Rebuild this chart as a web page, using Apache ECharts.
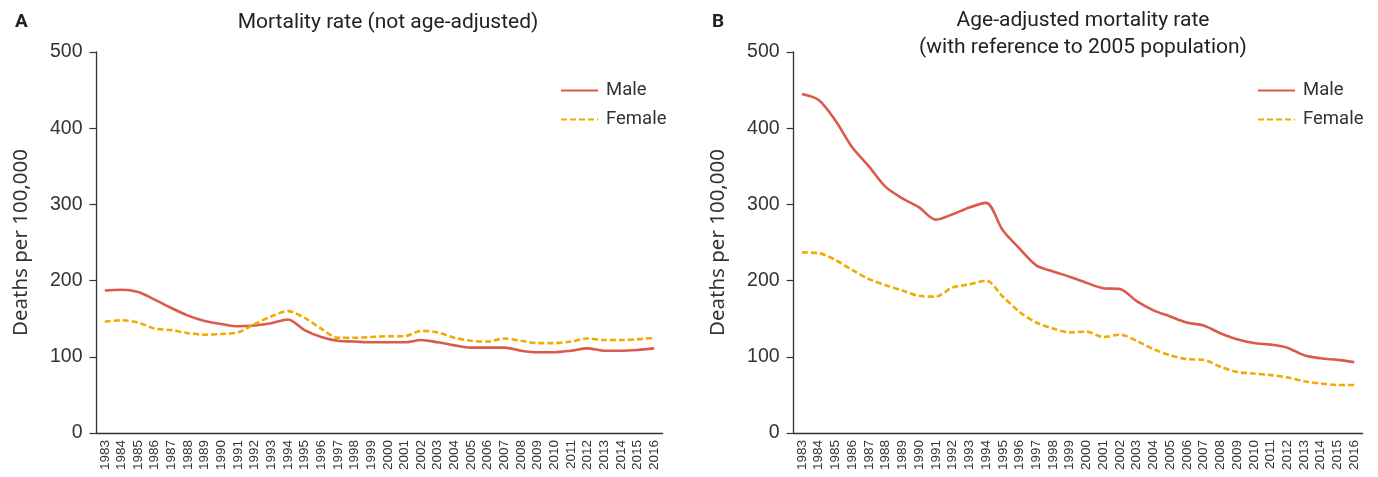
<!DOCTYPE html>
<html><head><meta charset="utf-8">
<script src="https://cdn.jsdelivr.net/npm/echarts@6/dist/echarts.min.js"></script>
<style>html,body{margin:0;padding:0;background:#fff}#c{width:1378px;height:477px}</style>
</head><body><div id="c"></div>
<script>
const years = ['1983','1984','1985','1986','1987','1988','1989','1990','1991','1992','1993','1994','1995','1996','1997','1998','1999','2000','2001','2002','2003','2004','2005','2006','2007','2008','2009','2010','2011','2012','2013','2014','2015','2016'];
const maleCrude = [187,188,185,175,164,154,147,143,140,141,144,149,135,126,121,120,119,119,119,122,119,115,112,112,112,108,106,106,108,111,108,108,109,111];
const femaleCrude = [146,148,145,137,135,131,129,130,132,143,153,160,151,137,125,125,126,127,127,134,132,125,121,120,124,121,118,118,120,124,122,122,123,125];
const maleAdj = [445,437,410,375,350,323,308,296,280,287,296,302,266,242,220,212,205,197,190,189,173,161,153,145,141,131,123,118,116,112,102,98,96,93];
const femaleAdj = [237,236,227,214,202,194,187,180,179,191,195,200,179,159,145,137,132,133,126,129,121,110,102,97,96,87,80,78,76,73,68,65,63,63];
const yTicks = [0,100,200,300,400,500];

const titleFont = 'Roboto,"Noto Sans",sans-serif';
const MALE = '#DA5A4C', FEMALE = '#F2A900';
const chart = echarts.init(document.getElementById('c'));

function xAxis(gi){
  return {type:'category', gridIndex:gi, data:years, boundaryGap:true,
    axisLine:{lineStyle:{color:'#333',width:1.3}},
    axisTick:{alignWithLabel:true,length:6,lineStyle:{color:'#333',width:1.2}},
    axisLabel:{rotate:90,interval:0,fontSize:13.5,color:'#333',fontFamily:'Arial,"Liberation Sans",sans-serif',margin:7}};
}
function yAxis(gi){
  return {type:'value', gridIndex:gi, min:0, max:500, interval:100,
    name:'Deaths per 100,000', nameLocation:'middle', nameGap:65,
    nameTextStyle:{fontSize:20.5,color:'#333',fontFamily:'"Noto Sans",sans-serif'},
    splitLine:{show:false},
    axisLine:{show:true,lineStyle:{color:'#333',width:1.3}},
    axisTick:{show:true,length:7,lineStyle:{color:'#333',width:1.2}},
    axisLabel:{fontSize:19.5,color:'#333',margin:14,fontFamily:'Arial,"Liberation Sans",sans-serif',
      formatter:v=>yTicks.indexOf(v)>=0?String(v):''}};
}
function ser(name,data,gi,color,dashed){
  return {type:'line', name:name, xAxisIndex:gi, yAxisIndex:gi, data:data, smooth:0.3,
    symbol:'none', showSymbol:false,
    lineStyle:{color:color,width:2.6,type:dashed?[6,3]:'solid'}, itemStyle:{color:color}};
}
function legend(left){
  return {orient:'vertical', left:left, top:76, itemWidth:37, itemHeight:14, itemGap:10,
    itemStyle:{opacity:0},
    data:['Male','Female'], textStyle:{fontSize:18.5,lineHeight:16,color:'#333',fontFamily:titleFont,padding:[0,0,0,3]}};
}
chart.setOption({
  animation:false,
  title:[
    {text:'A', left:10, top:8, textStyle:{fontSize:19,fontWeight:'bold',color:'#222',fontFamily:titleFont}},
    {text:'Mortality rate (not age-adjusted)', left:383, top:7, textAlign:'center', textStyle:{fontSize:21,fontWeight:'normal',color:'#222',fontFamily:titleFont}},
    {text:'B', left:707, top:8, textStyle:{fontSize:19,fontWeight:'bold',color:'#222',fontFamily:titleFont}},
    {text:'Age-adjusted mortality rate\n(with reference to 2005 population)', left:1078, top:2, textAlign:'center', textStyle:{fontSize:21,fontWeight:'normal',color:'#222',lineHeight:27,fontFamily:titleFont}}
  ],
  legend:[legend(555), legend(1252)],
  grid:[
    {left:96.5, top:52, width:566, height:381},
    {left:793.6, top:52, width:569, height:381}
  ],
  xAxis:[xAxis(0), xAxis(1)],
  yAxis:[yAxis(0), yAxis(1)],
  series:[
    ser('Male',maleCrude,0,MALE,false),
    ser('Female',femaleCrude,0,FEMALE,true),
    ser('Male',maleAdj,1,MALE,false),
    ser('Female',femaleAdj,1,FEMALE,true)
  ]
});
</script></body></html>
